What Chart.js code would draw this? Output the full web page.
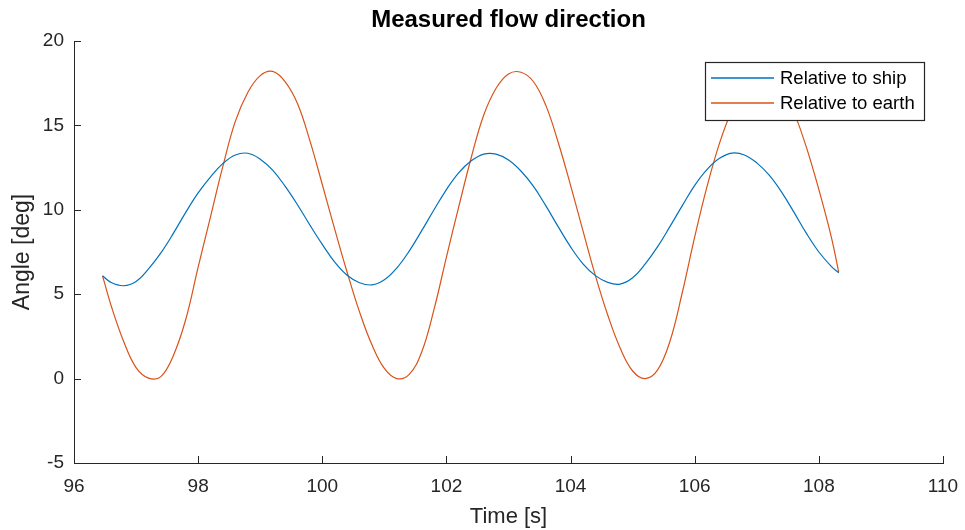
<!DOCTYPE html>
<html>
<head>
<meta charset="utf-8">
<title>Measured flow direction</title>
<script src="https://cdn.jsdelivr.net/npm/chart.js@4.4.1/dist/chart.umd.min.js"></script>
<style>
  html, body { margin: 0; padding: 0; background: #fff; }
</style>
</head>
<body>
<canvas id="flowChart" width="965" height="530"></canvas>
<script>
// values
const timeSec = [96.46, 96.6, 96.8, 97.0, 97.2, 97.4, 97.6, 97.8, 98.0, 98.2,
  98.4, 98.6, 98.8, 99.0, 99.2, 99.4, 99.6, 99.8, 100.0, 100.2,
  100.4, 100.6, 100.8, 101.0, 101.2, 101.4, 101.6, 101.8, 102.0, 102.2,
  102.4, 102.6, 102.8, 103.0, 103.2, 103.4, 103.6, 103.8, 104.0, 104.2,
  104.4, 104.6, 104.8, 105.0, 105.2, 105.4, 105.6, 105.8, 106.0, 106.2,
  106.4, 106.6, 106.8, 107.0, 107.2, 107.4, 107.6, 107.8, 108.0, 108.2, 108.32];

const relShip = [6.09, 5.69, 5.5, 5.75, 6.5, 7.45, 8.6, 9.85, 11.0, 11.95,
  12.75, 13.25, 13.35, 13.0, 12.35, 11.4, 10.3, 9.1, 7.95, 6.9,
  6.12, 5.68, 5.55, 5.85, 6.55, 7.55, 8.75, 10.0, 11.2, 12.2,
  12.9, 13.3, 13.3, 12.95, 12.3, 11.4, 10.25, 9.0, 7.8, 6.8,
  6.1, 5.7, 5.6, 5.97, 6.78, 7.8, 9.0, 10.25, 11.45, 12.4,
  13.05, 13.36, 13.25, 12.78, 12.05, 11.05, 9.85, 8.6, 7.5, 6.65, 6.27];

const relEarth = [6.09, 4.3, 2.2, 0.65, 0.03, 0.12, 1.36, 3.5, 6.6, 9.6,
  12.6, 15.25, 16.95, 17.95, 18.2, 17.6, 16.3, 14.1, 11.5, 8.85,
  6.3, 3.95, 2.0, 0.6, 0.0, 0.25, 1.56, 4.1, 7.2, 10.2,
  13.1, 15.6, 17.2, 18.05, 18.15, 17.6, 16.2, 14.0, 11.45, 8.75,
  6.1, 3.75, 1.8, 0.45, 0.0, 0.5, 2.2, 5.1, 8.4, 11.4,
  13.95, 15.9, 17.25, 18.05, 18.2, 17.55, 15.8, 13.7, 11.2, 8.4, 6.3];

const xTicks = [96, 98, 100, 102, 104, 106, 108, 110];
const yTicks = [-5, 0, 5, 10, 15, 20];

const AXIS_COLOR = '#262626';
Chart.defaults.font.family = '"Liberation Sans", Arial, Helvetica, sans-serif';
Chart.defaults.color = AXIS_COLOR;

const toPoints = vals => vals.map((v, i) => ({ x: timeSec[i], y: v }));

// matlab style ticks pointing into the plot
const inwardTicks = {
  id: 'inwardTicks',
  afterDraw(chart) {
    const { ctx, chartArea: a, scales: { x, y } } = chart;
    ctx.save();
    ctx.strokeStyle = AXIS_COLOR;
    ctx.lineWidth = 1;
    ctx.beginPath();
    x.ticks.forEach(t => {
      const px = Math.round(x.getPixelForValue(t.value)) + 0.5;
      ctx.moveTo(px, a.bottom);
      ctx.lineTo(px, a.bottom - 7);
    });
    y.ticks.forEach(t => {
      const py = Math.round(y.getPixelForValue(t.value)) + 0.5;
      ctx.moveTo(a.left, py);
      ctx.lineTo(a.left + 7, py);
    });
    ctx.stroke();
    ctx.restore();
  }
};

// boxed legend inside the axes, top right
const boxLegend = {
  id: 'boxLegend',
  afterDatasetsDraw(chart) {
    const { ctx, chartArea: a } = chart;
    const w = 219, h = 58;
    const left = Math.round(a.right - 19 - w), top = Math.round(a.top + 21);
    ctx.save();
    ctx.fillStyle = '#fff';
    ctx.fillRect(left, top, w, h);
    ctx.strokeStyle = AXIS_COLOR;
    ctx.lineWidth = 1.2;
    ctx.strokeRect(left + 0.5, top + 0.5, w, h);
    ctx.font = '18.5px "Liberation Sans", Arial, sans-serif';
    ctx.textBaseline = 'middle';
    chart.data.datasets.forEach((ds, i) => {
      const yy = top + 16 + i * 25;
      ctx.strokeStyle = ds.borderColor;
      ctx.lineWidth = 1.3;
      ctx.beginPath();
      ctx.moveTo(left + 6, yy);
      ctx.lineTo(left + 69, yy);
      ctx.stroke();
      ctx.fillStyle = '#000';
      ctx.fillText(ds.label, left + 75, yy + 1);
    });
    ctx.restore();
  }
};

new Chart(document.getElementById('flowChart'), {
  type: 'line',
  data: {
    datasets: [
      { label: 'Relative to ship', data: toPoints(relShip), borderColor: '#0072BD', borderWidth: 1.2, pointRadius: 0, tension: 0.4 },
      { label: 'Relative to earth', data: toPoints(relEarth), borderColor: '#D95319', borderWidth: 1.2, pointRadius: 0, tension: 0.4 }
    ]
  },
  options: {
    responsive: false,
    animation: false,
    devicePixelRatio: 1,
    layout: { padding: { right: 22 } },
    plugins: {
      legend: { display: false },
      tooltip: { enabled: false },
      title: {
        display: true,
        text: 'Measured flow direction',
        color: '#000',
        fullSize: false,
        font: { size: 24, weight: 'bold' },
        padding: { top: 6, bottom: 6.2 }
      }
    },
    scales: {
      x: {
        type: 'linear',
        min: 96,
        max: 110,
        afterBuildTicks: s => { s.ticks = xTicks.map(v => ({ value: v })); },
        afterFit: s => { s.height = 67; s.paddingLeft = 0; s.paddingRight = 0; },
        ticks: { font: { size: 19 }, color: AXIS_COLOR, padding: 12, maxRotation: 0 },
        grid: { display: false, drawTicks: false },
        border: { display: true, color: AXIS_COLOR, width: 1 },
        title: { display: true, text: 'Time [s]', font: { size: 22 }, color: AXIS_COLOR, padding: { top: 0, bottom: 0 } }
      },
      y: {
        min: -5,
        max: 20,
        afterBuildTicks: s => { s.ticks = yTicks.map(v => ({ value: v })); },
        afterFit: s => { s.width = 74; },
        ticks: { font: { size: 19 }, color: AXIS_COLOR, padding: 10 },
        grid: { display: false, drawTicks: false },
        border: { display: true, color: AXIS_COLOR, width: 1 },
        title: { display: true, text: 'Angle [deg]', font: { size: 23 }, color: AXIS_COLOR, padding: { top: 9, bottom: 0 } }
      }
    }
  },
  plugins: [inwardTicks, boxLegend]
});
</script>
</body>
</html>
